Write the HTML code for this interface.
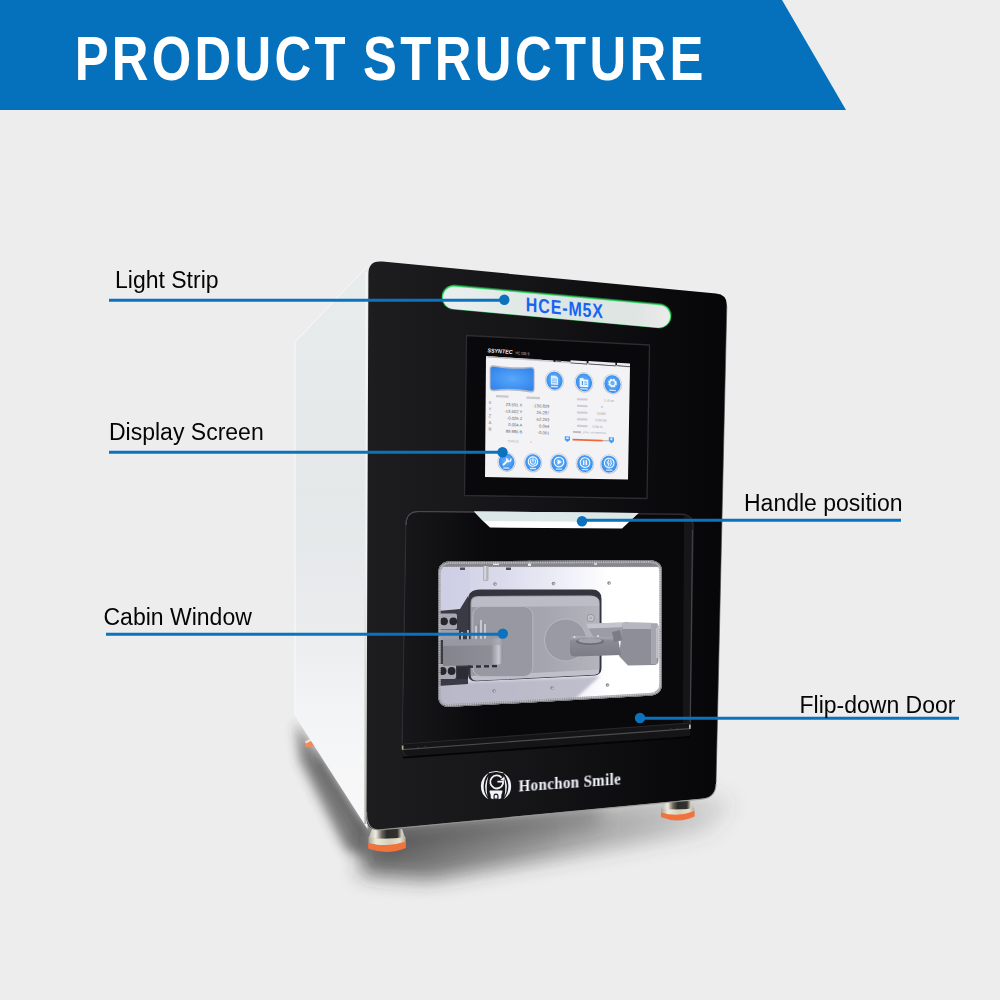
<!DOCTYPE html>
<html><head><meta charset="utf-8"><title>Product Structure</title>
<style>
html,body{margin:0;padding:0;background:#ededed;}
body{width:1000px;height:1000px;overflow:hidden;position:relative;font-family:"Liberation Sans",sans-serif;}
svg{position:absolute;left:0;top:0;display:block}
text{font-family:"Liberation Sans",sans-serif;}
.lbl{font-size:23px;fill:#050505;}
.ser{font-family:"Liberation Serif",serif;}
</style></head><body>
<svg width="1000" height="1000" viewBox="0 0 1000 1000">
<defs>
<filter id="b4" x="-20%" y="-50%" width="140%" height="200%"><feGaussianBlur stdDeviation="4"/></filter>
<filter id="b8" x="-20%" y="-60%" width="140%" height="220%"><feGaussianBlur stdDeviation="10"/></filter>
<filter id="b14" x="-20%" y="-80%" width="140%" height="260%"><feGaussianBlur stdDeviation="14"/></filter>
<filter id="idn" x="-5%" y="-20%" width="110%" height="140%"><feOffset dx="0" dy="0"/></filter>
<filter id="b6" x="-40%" y="-40%" width="180%" height="180%"><feGaussianBlur stdDeviation="6"/></filter>
<filter id="b1"><feGaussianBlur stdDeviation="0.6"/></filter>
<filter id="b2"><feGaussianBlur stdDeviation="1.6"/></filter>
<linearGradient id="gFront" x1="0" y1="0" x2="1" y2="0">
 <stop offset="0" stop-color="#1d1d20"/><stop offset="0.45" stop-color="#151517"/><stop offset="0.8" stop-color="#0b0b0d"/><stop offset="1" stop-color="#060608"/>
</linearGradient>
<linearGradient id="gSide" x1="0" y1="0" x2="0" y2="1">
 <stop offset="0" stop-color="#e9eced"/><stop offset="0.4" stop-color="#e4e8e9"/><stop offset="0.62" stop-color="#e9ebed"/><stop offset="0.8" stop-color="#f3f4f5"/><stop offset="1" stop-color="#f9f9fa"/>
</linearGradient>
<linearGradient id="gStrip" x1="0" y1="0" x2="1" y2="0">
 <stop offset="0" stop-color="#e9efee"/><stop offset="0.5" stop-color="#dde6e4"/><stop offset="0.85" stop-color="#dfe5e3"/><stop offset="1" stop-color="#ebebeb"/>
</linearGradient>
<linearGradient id="gWin" x1="0" y1="0" x2="1" y2="0">
 <stop offset="0" stop-color="#cfcfe4"/><stop offset="0.3" stop-color="#dadaec"/><stop offset="0.6" stop-color="#f2f2fa"/><stop offset="0.75" stop-color="#ffffff"/><stop offset="1" stop-color="#ffffff"/>
</linearGradient>
<linearGradient id="gPlate" x1="0" y1="0" x2="1" y2="0">
 <stop offset="0" stop-color="#9a9aa4"/><stop offset="0.6" stop-color="#a6a6b0"/><stop offset="1" stop-color="#b4b4bc"/>
</linearGradient>
<linearGradient id="gClamp" x1="0" y1="0" x2="1" y2="0">
 <stop offset="0" stop-color="#84848c"/><stop offset="0.8" stop-color="#8e8e96"/><stop offset="0.93" stop-color="#c8c8d0"/><stop offset="1" stop-color="#8a8a92"/>
</linearGradient>
<linearGradient id="gArm" x1="0" y1="0" x2="0" y2="1">
 <stop offset="0" stop-color="#b0b0b8"/><stop offset="0.25" stop-color="#8a8a92"/><stop offset="1" stop-color="#7c7c84"/>
</linearGradient>
<linearGradient id="gFoot" x1="0" y1="0" x2="1" y2="0">
 <stop offset="0" stop-color="#a8a494"/><stop offset="0.2" stop-color="#ecead8"/><stop offset="0.55" stop-color="#d4d0ba"/><stop offset="0.85" stop-color="#e4e0cc"/><stop offset="1" stop-color="#b0ac9c"/>
</linearGradient>
<linearGradient id="gShadow" gradientUnits="userSpaceOnUse" x1="366" y1="0" x2="735" y2="0">
 <stop offset="0" stop-color="#2c2c2c" stop-opacity="0.72"/><stop offset="0.45" stop-color="#3a3a3a" stop-opacity="0.5"/><stop offset="0.8" stop-color="#4a4a4a" stop-opacity="0.3"/><stop offset="1" stop-color="#555" stop-opacity="0.12"/>
</linearGradient>
<linearGradient id="gFootTop" x1="0" y1="0" x2="1" y2="0">
 <stop offset="0" stop-color="#b8b4a8"/><stop offset="0.2" stop-color="#f0ece2"/><stop offset="0.36" stop-color="#6a665e"/><stop offset="0.5" stop-color="#2a2a28"/><stop offset="0.78" stop-color="#34332f"/><stop offset="0.9" stop-color="#d8d4c6"/><stop offset="1" stop-color="#a8a498"/>
</linearGradient>
<linearGradient id="gEdge" gradientUnits="userSpaceOnUse" x1="0" y1="560" x2="0" y2="824">
 <stop offset="0" stop-color="#d8dad8" stop-opacity="0"/><stop offset="0.4" stop-color="#cfd0cc" stop-opacity="0.8"/><stop offset="1" stop-color="#b4b4ac" stop-opacity="1"/>
</linearGradient>
<linearGradient id="gDoorL" gradientUnits="userSpaceOnUse" x1="404" y1="0" x2="500" y2="0">
 <stop offset="0" stop-color="#18181b" stop-opacity="0.95"/><stop offset="0.5" stop-color="#131315" stop-opacity="0.7"/><stop offset="1" stop-color="#0a0a0c" stop-opacity="0"/>
</linearGradient>
<radialGradient id="gIcon" cx="0.5" cy="0.45" r="0.6">
 <stop offset="0" stop-color="#6fb6fb"/><stop offset="0.7" stop-color="#3f97f2"/><stop offset="1" stop-color="#2f7fe0"/>
</radialGradient>
<radialGradient id="gBlue" cx="0.5" cy="0.5" r="0.7">
 <stop offset="0" stop-color="#58a8fb"/><stop offset="1" stop-color="#2f80ea"/>
</radialGradient>

<clipPath id="cWin"><path d="M438.0,574.1 Q438.0,561.4 451.0,561.3 L649.0,560.3 Q662.0,560.2 662.0,571.9 L662.0,683.4 Q662.0,695.1 649.0,695.8 L451.0,706.8 Q438.0,707.5 438.0,694.9 Z"/></clipPath>
</defs>
<rect width="1000" height="1000" fill="#ededed"/>
<polygon points="0,0 782,0 846,110 0,110" fill="#0571bd"/>
<g fill="#ffffff" font-weight="700" font-size="63.5" filter="url(#idn)">
<text transform="translate(74.7,80.3) scale(0.8,1)" letter-spacing="4.1">PRODUCT</text>
<text transform="translate(363,80.3) scale(0.8,1)" letter-spacing="4.25">STRUCTURE</text>
</g>
<g>
<polygon points="368,824 714,794 734,804 708,832 430,880 360,874" fill="url(#gShadow)" filter="url(#b8)"/>
<polygon points="372,826 600,806 600,822 380,852" fill="#3a3a3a" opacity="0.4" filter="url(#b8)"/>
<polygon points="296,722 366,830 370,858 346,850 300,760" fill="#303030" opacity="0.62" filter="url(#b6)"/>
<polygon points="312,742 366,828 366,842 318,766" fill="#202020" opacity="0.5" filter="url(#b4)"/>
</g>
<path d="M664.8,801 L690.7,801 L694.2,809.5 L661.3,809.5 Z" fill="url(#gFootTop)"/><path d="M661.3,808.5 Q677.75,811.0 694.2,808.0 L694.2,813 Q677.75,817 661.3,813 Z" fill="url(#gFoot)"/><path d="M660.9,812.5 Q677.75,817.5 694.6,811 L694.6,816.5 Q677.75,824.0 660.9,817.0 Z" fill="#f1733c"/>
<path d="M372.0,829 L402.0,829 L405.5,838.5 L368.5,838.5 Z" fill="url(#gFootTop)"/><path d="M368.5,837.5 Q387.0,840.0 405.5,837.0 L405.5,843.5 Q387.0,847.5 368.5,843.5 Z" fill="url(#gFoot)"/><path d="M368.1,843.0 Q387.0,848.0 405.9,841.5 L405.9,848 Q387.0,855.5 368.1,848.5 Z" fill="#f1733c"/>
<path d="M304.5,742.5 l6.5,-3 l3.6,6.4 l-8.6,1.6 z" fill="#f28a55"/><path d="M305,741.5 l6,-3 l1,2 l-6,3 z" fill="#e8e4da"/>
<polygon points="295,342 367.5,266 367.5,829 340,786 295,716" fill="url(#gSide)"/>
<polyline points="295,716 295,342 367.5,266" fill="none" stroke="#f8fafa" stroke-width="1"/>
<line x1="366.3" y1="272" x2="366.3" y2="822" stroke="#f4f6f6" stroke-width="1.6"/>
<line x1="365.6" y1="560" x2="365.4" y2="824" stroke="url(#gEdge)" stroke-width="2.2"/>
<path d="M368.4,274 Q368.4,259.8 382.5,261.6 L716,293.6 Q727,294.7 726.8,305 L716,784 Q715.7,797.6 702,798.8 L380,829.6 Q366.3,830.9 366.4,817 Z" fill="url(#gFront)"/>
<path d="M726.8,306 L716,783" stroke="#4a4a4e" stroke-width="1" opacity="0.6" fill="none"/>
<path d="M366.6,812 Q366.3,830.9 380,829.9 L702,799.1 Q715.7,797.9 716,784" stroke="#9a9a98" stroke-width="1.1" opacity="0.8" fill="none"/>
<g transform="translate(556.5,306.9) rotate(5.2)">
<rect x="-115.2" y="-12.6" width="230.4" height="24.4" rx="12.2" fill="#34ea6c" opacity="0.95" filter="url(#b1)"/>
<rect x="-114" y="-11" width="228" height="22.5" rx="11.2" fill="url(#gStrip)"/>
</g>
<text transform="translate(525.8,311.3) skewY(5.2) scale(0.8,1)" font-size="20" font-weight="700" fill="#1565f2" letter-spacing="1.1">HCE-M5X</text>
<polygon points="466.5,335.5 649.5,345 647,498.5 464.5,495.5" fill="#09090b" stroke="#2c2c32" stroke-width="1.3" stroke-linejoin="round"/>
<g transform="translate(487.5,352.3) skewY(3.6)"><text font-size="5.6" font-weight="700" font-style="italic" fill="#f2f2f2" textLength="25" lengthAdjust="spacingAndGlyphs">SSYNTEC</text><text x="28" y="0.3" font-size="4.2" fill="#c8c8c8" textLength="14" lengthAdjust="spacingAndGlyphs">HC 10E-5</text></g>
<polygon points="486,356 630,366 628,479.6 485,477" fill="#f3f3f6"/>
<polygon points="486,356 630,366 630,367.6 486,357.4" fill="#c9c9cf"/>
<g transform="translate(486,356) skewY(3.89)">
<rect x="84.5" y="-1.6" width="16.5" height="2.6" fill="#ececf0"/><rect x="84.5" y="0.8" width="16.5" height="0.8" fill="#3a3a40"/>
<rect x="102.5" y="-2.0" width="27" height="2.8" fill="#ececf0"/><rect x="102.5" y="0.6" width="27" height="0.8" fill="#3a3a40"/>
<rect x="131" y="-2.2" width="13" height="2.8" fill="#ececf0"/><rect x="131" y="0.4" width="13" height="0.8" fill="#3a3a40"/>
<rect x="100.6" y="-1.8" width="0.8" height="3" fill="#3a3a40"/><rect x="129.6" y="-2" width="0.8" height="3" fill="#3a3a40"/>
<circle cx="68.5" cy="0.2" r="1.2" fill="#1c1c20"/><rect x="70" y="-0.6" width="5" height="1.4" fill="#55555c"/>
<rect x="40" y="-0.4" width="16" height="0.9" fill="#8a8a92" opacity="0.7"/><rect x="2" y="0.2" width="20" height="0.8" fill="#9a9aa2" opacity="0.7"/>
</g>
<g transform="translate(486,356) skewY(1.72)">
<path d="M3.6,12.6 Q3.6,8.6 8,9 Q26,11.6 44.5,9.4 Q48.6,9 48.6,13 L48.6,31.5 Q48.6,35.6 44.5,35.2 Q26,32.6 8,35 Q3.6,35.5 3.6,31.5 Z" fill="#b4b8c2"/>
<path d="M4.6,13.4 Q4.6,10.2 8,10.5 Q26,13.2 44.5,10.9 Q47.6,10.6 47.6,13.6 L47.6,30.6 Q47.6,33.8 44.5,33.5 Q26,30.8 8,33.4 Q4.6,33.8 4.6,30.6 Z" fill="url(#gBlue)"/>
</g>
<g transform="translate(554.5,380.6) skewY(3.43)">
<ellipse cx="0" cy="0" rx="9.6" ry="10.4" fill="#c6cad6"/><ellipse cx="0" cy="-0.3" rx="8.9" ry="9.5" fill="#e6eaf2"/><ellipse cx="0" cy="0" rx="8.1" ry="8.9" fill="url(#gIcon)"/><ellipse cx="29.5" cy="0" rx="9.6" ry="10.4" fill="#c6cad6"/><ellipse cx="29.5" cy="-0.3" rx="8.9" ry="9.5" fill="#e6eaf2"/><ellipse cx="29.5" cy="0" rx="8.1" ry="8.9" fill="url(#gIcon)"/><ellipse cx="58" cy="0" rx="9.6" ry="10.4" fill="#c6cad6"/><ellipse cx="58" cy="-0.3" rx="8.9" ry="9.5" fill="#e6eaf2"/><ellipse cx="58" cy="0" rx="8.1" ry="8.9" fill="url(#gIcon)"/>
<path d="M-3.6,-5 h5 l2.2,2.2 v7 h-7.2 z" fill="#dcebff"/><path d="M-2.6,-1.5 h5 M-2.6,0.3 h5 M-2.6,2.1 h5" stroke="#62a8f4" stroke-width="0.7"/><rect x="-3.6" y="5.4" width="7.2" height="1.4" fill="#e8f2ff" opacity="0.85"/>
<path d="M25.2,-4.2 h3.4 l1,1.3 h4.2 v7.6 h-8.6 z" fill="#eaf3ff"/><rect x="27.3" y="-1.2" width="1.2" height="4" fill="#4a9df4"/><rect x="29.8" y="-0.8" width="2.8" height="0.8" fill="#4a9df4"/><rect x="29.8" y="1.3" width="2.8" height="0.8" fill="#4a9df4"/><rect x="25.8" y="5.8" width="7.6" height="1.4" fill="#e8f2ff" opacity="0.85"/>
<circle cx="58" cy="-1" r="3.4" fill="none" stroke="#f2f8ff" stroke-width="2" stroke-dasharray="1.55 1.12"/><circle cx="58" cy="-1" r="2.9" fill="none" stroke="#f2f8ff" stroke-width="1.3"/><rect x="54.6" y="5.6" width="6.8" height="1.4" fill="#e8f2ff" opacity="0.85"/>
</g>
<g transform="translate(486,356) skewY(2.41)"><g fill="#62626a" font-size="4.2">
<rect x="10" y="38.6" width="12.5" height="2.2" fill="#8a8a92" opacity="0.4"/><rect x="40.5" y="38.8" width="13.5" height="2.2" fill="#8a8a92" opacity="0.4"/>
<text x="2.4" y="47.8" fill="#7c7c84" font-size="4.4">X</text><text x="36.4" y="49.2" text-anchor="end">23.501 X</text><text x="63.4" y="49.2" text-anchor="end">-130.829</text>
<text x="2.4" y="54.5" fill="#7c7c84" font-size="4.4">Y</text><text x="36.4" y="55.9" text-anchor="end">-13.502 Y</text><text x="63.4" y="55.9" text-anchor="end">26.287</text>
<text x="2.4" y="61.2" fill="#7c7c84" font-size="4.4">Z</text><text x="36.4" y="62.6" text-anchor="end">-0.026 Z</text><text x="63.4" y="62.6" text-anchor="end">62.253</text>
<text x="2.4" y="67.8" fill="#7c7c84" font-size="4.4">A</text><text x="36.4" y="69.2" text-anchor="end">0.004 A</text><text x="63.4" y="69.2" text-anchor="end">0.064</text>
<text x="2.4" y="74.5" fill="#7c7c84" font-size="4.4">B</text><text x="36.4" y="75.9" text-anchor="end">89.986 B</text><text x="63.4" y="75.9" text-anchor="end">-0.061</text>
<text x="21.5" y="85.2" font-size="3" fill="#a0a0a8">T0/M1/S</text><text x="44" y="85.2" font-size="3" fill="#a0a0a8">1</text>
</g></g>
<g transform="translate(577,400.6) skewY(2.00)"><g fill="#8e8e96" font-size="3.3">
<rect x="0" y="-2.4" width="10.5" height="2" fill="#8a8a92" opacity="0.36"/>
<text x="27" y="0.0" fill="#9a9aa2">1 /0 oo</text>
<rect x="0" y="4.2" width="10.5" height="2" fill="#8a8a92" opacity="0.36"/>
<text x="24" y="6.7" fill="#9a9aa2">6</text>
<rect x="0" y="10.9" width="10.5" height="2" fill="#8a8a92" opacity="0.36"/>
<text x="19.5" y="13.3" fill="#9a9aa2">12000</text>
<rect x="0" y="17.6" width="10.5" height="2" fill="#8a8a92" opacity="0.36"/>
<text x="18.5" y="20.0" fill="#9a9aa2">0:00:06</text>
<rect x="0" y="24.2" width="10.5" height="2" fill="#8a8a92" opacity="0.36"/>
<text x="15.5" y="26.6" fill="#9a9aa2">0.00   %</text>
<rect x="-4" y="30.6" width="8" height="1.8" fill="#8a8a92" opacity="0.55"/><text x="5.5" y="32.4" font-size="2.4" fill="#9a9aa2">100%    F100    8000RPM</text>
</g></g>
<g transform="translate(567.4,438.8) skewY(1.72)">
<rect x="5" y="-0.2" width="30.5" height="1.8" rx="0.9" fill="#f0683a"/><rect x="35.5" y="0.1" width="6" height="1.2" fill="#b4b4bc"/>
<path d="M-2.6,-2.4 h5.2 v3.6 l-2.6,2 l-2.6,-2 z" fill="#4a9df4"/><rect x="-1.3" y="-1.4" width="2.6" height="1.5" fill="#eef6ff"/>
<path d="M41.4,-2.8 h5.2 v3.8 l-2.6,2.4 l-2.6,-2.4 z" fill="#4a9df4"/><rect x="43.1" y="-2" width="1.8" height="2" fill="#eef6ff"/>
</g>
<g transform="translate(506.6,462) skewY(1.15)">
<ellipse cx="0" cy="0" rx="9.3" ry="9.9" fill="#c6cad6"/><ellipse cx="0" cy="-0.3" rx="8.600000000000001" ry="9.0" fill="#e6eaf2"/><ellipse cx="0" cy="0" rx="7.800000000000001" ry="8.4" fill="url(#gIcon)"/>
<ellipse cx="26.4" cy="0" rx="9.3" ry="9.9" fill="#c6cad6"/><ellipse cx="26.4" cy="-0.3" rx="8.600000000000001" ry="9.0" fill="#e6eaf2"/><ellipse cx="26.4" cy="0" rx="7.800000000000001" ry="8.4" fill="url(#gIcon)"/>
<ellipse cx="52.4" cy="0" rx="9.3" ry="9.9" fill="#c6cad6"/><ellipse cx="52.4" cy="-0.3" rx="8.600000000000001" ry="9.0" fill="#e6eaf2"/><ellipse cx="52.4" cy="0" rx="7.800000000000001" ry="8.4" fill="url(#gIcon)"/>
<ellipse cx="78.4" cy="0" rx="9.3" ry="9.9" fill="#c6cad6"/><ellipse cx="78.4" cy="-0.3" rx="8.600000000000001" ry="9.0" fill="#e6eaf2"/><ellipse cx="78.4" cy="0" rx="7.800000000000001" ry="8.4" fill="url(#gIcon)"/>
<ellipse cx="102.6" cy="0" rx="9.3" ry="9.9" fill="#c6cad6"/><ellipse cx="102.6" cy="-0.3" rx="8.600000000000001" ry="9.0" fill="#e6eaf2"/><ellipse cx="102.6" cy="0" rx="7.800000000000001" ry="8.4" fill="url(#gIcon)"/>
<path d="M-3.2,2.8 l4.6,-4.6" stroke="#f4f9ff" stroke-width="1.8" stroke-linecap="round" fill="none"/><circle cx="2.2" cy="-2.6" r="2.1" fill="none" stroke="#f4f9ff" stroke-width="1.4" stroke-dasharray="9.4 3.8" stroke-dashoffset="2.2"/>
<circle cx="26.4" cy="-1" r="4.7" fill="none" stroke="#f4f9ff" stroke-width="1.1"/><path d="M26.4,-4 v2.8" stroke="#f4f9ff" stroke-width="1.1" stroke-linecap="round"/><path d="M24.5,-2.9 a2.7,2.7 0 1 0 3.8,0" stroke="#f4f9ff" stroke-width="1" fill="none" stroke-linecap="round"/>
<circle cx="52.4" cy="-1" r="4.8" fill="none" stroke="#f4f9ff" stroke-width="1.1"/><path d="M50.9,-3.7 l4.4,2.7 l-4.4,2.7 z" fill="#f4f9ff"/>
<circle cx="78.4" cy="-1" r="4.8" fill="none" stroke="#f4f9ff" stroke-width="1.1"/><rect x="76.4" y="-3.4" width="1.3" height="4.8" fill="#f4f9ff"/><rect x="79.1" y="-3.4" width="1.3" height="4.8" fill="#f4f9ff"/>
<circle cx="102.6" cy="-1" r="4.8" fill="none" stroke="#f4f9ff" stroke-width="1.1"/><path d="M102.2,-4.2 l-1.5,3.3 h1.7 l-0.9,3.1 M104.2,-3.9 l0.2,2.6 M103.6,1.8 l1.4,-2.6" stroke="#f4f9ff" stroke-width="0.95" fill="none" stroke-linecap="round" stroke-linejoin="round"/>
<rect x="-3.2" y="5.4" width="6.4" height="1.3" fill="#e8f2ff" opacity="0.85"/>
<rect x="23.2" y="5.4" width="6.4" height="1.3" fill="#e8f2ff" opacity="0.85"/>
<rect x="49.199999999999996" y="5.4" width="6.4" height="1.3" fill="#e8f2ff" opacity="0.85"/>
<rect x="75.2" y="5.4" width="6.4" height="1.3" fill="#e8f2ff" opacity="0.85"/>
<rect x="99.39999999999999" y="5.4" width="6.4" height="1.3" fill="#e8f2ff" opacity="0.85"/>
</g>
<path d="M406,525 Q406,511.4 419,511.6 L681,514.2 Q693.2,514.3 693,527 L690.2,724 Q690,736.2 678,737 L414,756.6 Q402,757.5 402.2,745 Z" fill="#09090b" stroke="#2e2e33" stroke-width="1.4"/>
<path d="M406,525 Q406,511.4 419,511.6 L474,512" fill="none" stroke="#4a4a50" stroke-width="1.2"/>
<path d="M406.8,526 L403,744 L414,755.8 L500,749 L500,513 L419,512.4 Q407,512.3 406.8,526 Z" fill="url(#gDoorL)"/>
<path d="M684,515 Q692.4,515.2 692.3,527 L689.6,724 L683,724.6 Z" fill="#1a1a1d" opacity="0.8"/>
<path d="M474,511.5 L638.5,513 L630,521 L622,528.5 L490,527.5 L482,520 Z" fill="#ffffff"/>
<path d="M474,511.5 L638.5,513 L628.5,522 L483.5,521 Z" fill="#dce8e7"/>
<path d="M402.6,743.5 L690.2,722.6 L690,736.2 L678,737 L414,756.6 Q402,757.5 402.2,745 Z" fill="#151517"/>
<path d="M403,744 L690,723" stroke="#28282b" stroke-width="1" fill="none"/>
<path d="M403,749.6 L690,728.6" stroke="#4c4c50" stroke-width="1.2" fill="none"/>
<path d="M403,757.6 L690,736.8" stroke="#040405" stroke-width="1.8" fill="none"/>
<path d="M692.4,530 L690.2,722" stroke="#4a4a50" stroke-width="1" opacity="0.85" fill="none"/>
<rect x="401.8" y="745.5" width="1.7" height="4.2" fill="#b8a890"/><rect x="689" y="724.6" width="1.7" height="4.2" fill="#c8c0b0"/>
<circle cx="418" cy="747.2" r="0.7" fill="#3a3a3e"/><circle cx="425" cy="746.7" r="0.7" fill="#3a3a3e"/><circle cx="671" cy="728.6" r="0.7" fill="#3a3a3e"/><circle cx="677" cy="728.2" r="0.7" fill="#3a3a3e"/>
<g clip-path="url(#cWin)">
<rect x="430" y="550" width="240" height="170" fill="url(#gWin)"/>
<polygon points="436,684 600,676 574,700 540,712 436,712" fill="#b4b4c4" opacity="0.85" filter="url(#b2)"/>
<polygon points="436,560 470,560 470,604 436,612" fill="#c8c8e2" opacity="0.35"/>
<rect x="436" y="559" width="228" height="8" fill="#86868c"/>
<rect x="436" y="559" width="228" height="8" fill="none" stroke="#d8d8dc" stroke-width="1" stroke-dasharray="1 1.2" opacity="0.7"/>
<rect x="493" y="559" width="6" height="6" fill="#e8e8ee"/><rect x="528" y="560" width="3" height="6" fill="#e8e8ee"/><rect x="594" y="561" width="3" height="4" fill="#d8d8de"/>
<rect x="483" y="566" width="5.5" height="15" rx="1.5" fill="#b2b2ba"/><rect x="484.2" y="566" width="2" height="14" fill="#d6d6de"/>
<rect x="460" y="567.5" width="5" height="2.5" fill="#50505a"/><rect x="506" y="567.5" width="5" height="2.5" fill="#50505a"/>
<circle cx="495" cy="584" r="1.8" fill="#8a8a92"/><circle cx="495.4" cy="584.3" r="0.8" fill="#d8d8e0"/>
<circle cx="553.5" cy="583.6" r="1.8" fill="#8a8a92"/><circle cx="553.9" cy="583.9" r="0.8" fill="#d8d8e0"/>
<circle cx="609" cy="583" r="1.8" fill="#8a8a92"/><circle cx="609.4" cy="583.3" r="0.8" fill="#d8d8e0"/>
<circle cx="494" cy="691" r="1.8" fill="#8a8a92"/><circle cx="494.4" cy="691.3" r="0.8" fill="#d8d8e0"/>
<circle cx="552" cy="688" r="1.8" fill="#8a8a92"/><circle cx="552.4" cy="688.3" r="0.8" fill="#d8d8e0"/>
<circle cx="607.5" cy="685" r="1.8" fill="#8a8a92"/><circle cx="607.9" cy="685.3" r="0.8" fill="#d8d8e0"/>
<path d="M438,611 L460,609 L468,596 L468,684 L438,686 Z" fill="#3a3a44"/>
<rect x="438" y="613.5" width="19" height="16" rx="2" fill="#a8a8b2"/>
<rect x="437" y="664" width="19" height="15" rx="2" fill="#a8a8b2"/>
<circle cx="444" cy="621.3" r="3.9" fill="#26262c"/>
<circle cx="453.3" cy="621.3" r="3.9" fill="#26262c"/>
<circle cx="442.6" cy="671" r="3.9" fill="#26262c"/>
<circle cx="451.6" cy="671" r="3.9" fill="#26262c"/>
<rect x="437" y="630" width="22" height="10" fill="#9e9ea8"/>
<path d="M468,600 Q468,589.5 480,589.5 L592,589.5 Q601.5,589.5 601.5,599 L601.5,668 Q601.5,675 595,675.4 L476,681.2 Q468,681.6 468,674 Z" fill="#34343e"/>
<path d="M470.5,603 Q470.5,596 478,596 L590,595.5 Q599.6,595.5 599.6,603 L599.6,668 Q599.6,674.4 593,674.8 L477,680.6 Q470.5,681 470.5,674 Z" fill="url(#gPlate)"/>
<path d="M471.5,603 Q471.5,597 478,597 L590,596.5 Q598.6,596.5 598.6,603 L598.6,606 L471.5,607 Z" fill="#bcbcc8"/>
<path d="M471,676 L599,669.6 L599,672.5 Q598,674.5 594,674.8 L477,680.6 Q472,680.6 471,676 Z" fill="#c2c2cc" opacity="0.9"/>
<rect x="472.8" y="606.5" width="60" height="70" rx="9" fill="#9898a2" stroke="#b6b6c0" stroke-width="1"/>
<circle cx="565.6" cy="640" r="21" fill="#9a9aa4" stroke="#b8b8c2" stroke-width="1"/>
<circle cx="590.8" cy="618" r="3.6" fill="#c8c8d0" stroke="#8a8a92" stroke-width="0.8"/><circle cx="590.8" cy="618" r="1.6" fill="#a8a8b0"/>
<path d="M586,623.5 L628,622.5 L624,641 L596,642 Z" fill="#9c9ca6"/>
<path d="M586,623.5 L628,622.5 L627,627 L588,628.5 Z" fill="#c4c4cc"/>
<path d="M622.5,626 Q622.5,622.5 626,622.5 L655,623 Q658.5,623 658.5,627 L658.5,660 Q658.5,665 654,665 L628,665.5 L619,656 Z" fill="#8e8e98"/>
<path d="M622.5,626 Q622.5,622.5 626,622.5 L655,623 Q658.5,623 658.5,627 L658.5,629 L622.5,629 Z" fill="#b6b6be"/>
<rect x="651" y="624" width="6" height="40" fill="#a6a6ae"/>
<rect x="656" y="628" width="8" height="30" fill="#c4c4cc" opacity="0.8"/>
<path d="M570,640 Q570,636 575,636 L618,637.5 L621,655 L575,656.5 Q570,656.5 570,652 Z" fill="url(#gArm)"/>
<ellipse cx="590" cy="641.5" rx="14" ry="3.6" fill="#6e6e78"/><ellipse cx="590" cy="640.6" rx="12" ry="2.6" fill="#a2a2ac"/>
<path d="M612,632 l8,-2 l2,10 l-8,2 z" fill="#7c7c86"/>
<circle cx="574.5" cy="637" r="1" fill="#e0e0e8"/><circle cx="598" cy="636" r="1" fill="#e0e0e8"/>
<g stroke="#d4d4dc" stroke-width="1.6"><path d="M462,632 v8 M468,630 v10 M476,626 v14 M481,620 v20 M485,624 v16"/></g>
<g stroke="#8c8c96" stroke-width="1.2"><path d="M478.5,624 v16 M483,622 v18"/></g>
<path d="M443,640 L497,638.5 Q503,638.5 503,644 L503,659 Q503,664.5 497,664.7 L443,666 Z" fill="url(#gClamp)"/>
<path d="M443,640 L497,638.5 Q503,638.5 503,644 L503,645 L443,646 Z" fill="#a0a0aa" opacity="0.7"/>
<g fill="#2e2e36"><rect x="468" y="665.5" width="5" height="2.4"/><rect x="476" y="665.3" width="5" height="2.4"/><rect x="484" y="665.1" width="5" height="2.4"/><rect x="492" y="664.9" width="5" height="2.4"/></g>
<rect x="457" y="667" width="11" height="12" fill="#2c2c34"/>
</g>
<g clip-path="url(#cWin)"><path d="M438.0,574.1 Q438.0,561.4 451.0,561.3 L649.0,560.3 Q662.0,560.2 662.0,571.9 L662.0,683.4 Q662.0,695.1 649.0,695.8 L451.0,706.8 Q438.0,707.5 438.0,694.9 Z" fill="none" stroke="#909096" stroke-width="5.4" opacity="0.85"/>
<path d="M438.0,574.1 Q438.0,561.4 451.0,561.3 L649.0,560.3 Q662.0,560.2 662.0,571.9 L662.0,683.4 Q662.0,695.1 649.0,695.8 L451.0,706.8 Q438.0,707.5 438.0,694.9 Z" fill="none" stroke="#eeeef2" stroke-width="5.4" stroke-dasharray="0.8 1.0" opacity="0.55"/>
<path d="M438.0,574.1 Q438.0,561.4 451.0,561.3 L649.0,560.3 Q662.0,560.2 662.0,571.9 L662.0,683.4 Q662.0,695.1 649.0,695.8 L451.0,706.8 Q438.0,707.5 438.0,694.9 Z" fill="none" stroke="#5c5c62" stroke-width="1.4" opacity="0.8"/></g>
<g transform="translate(496,786)" fill="#f2f3fa">
<path d="M-7.3,-13 A15.1,15.1 0 0 0 -7.6,13.3 A20,20 0 0 1 -7.3,-13 Z"/>
<path d="M7.3,-13 A15.1,15.1 0 0 1 7.6,13.3 A20,20 0 0 0 7.3,-13 Z"/>
<path d="M-7.6,-10 A21,21 0 0 0 -8.4,10.8 A44,44 0 0 1 -7.6,-10 Z"/>
<path d="M7.6,-10 A21,21 0 0 1 8.4,10.8 A44,44 0 0 0 7.6,-10 Z"/>
<path d="M-7.2,-13.2 Q0,-16 7.2,-13.2" fill="none" stroke="#f2f3fa" stroke-width="0.9"/>
<path d="M5.6,-8.4 A6.5,6.5 0 1 0 7,-2.2 L7,-4.4 L1.4,-4.4" fill="none" stroke="#f2f3fa" stroke-width="1.8"/>
<path d="M4.4,-6.6 l3.8,-2.6 l-0.4,4.2 z"/>
<path d="M-6.4,4.4 L6.4,4.4 L6.4,6 Q5,8.6 5.2,12.2 L2.5,13.2 L2.5,9.4 Q2.5,7.4 0,7.4 Q-2.5,7.4 -2.5,9.4 L-2.5,13.2 L-5.2,12.2 Q-5,8.6 -6.4,6 Z"/>
<rect x="-1.3" y="9" width="2.6" height="3.4" rx="0.5"/>
</g>
<text class="ser" transform="translate(518.6,791.6) skewY(-4.1) scale(0.85,1)" font-size="17.6" font-weight="700" fill="#f4f6ff" letter-spacing="0.45" filter="url(#idn)">Honchon Smile</text>
<g stroke="#0b72be" stroke-width="2.9" fill="none">
<path d="M109,300.3 H505"/><path d="M109,452.2 H503"/><path d="M106,634.2 H503"/><path d="M582,520.3 H901"/><path d="M640,718.2 H959"/>
</g>
<g fill="#0b72be"><circle cx="504.3" cy="299.8" r="5.2"/><circle cx="502.5" cy="452.2" r="5.2"/><circle cx="502.8" cy="633.6" r="5.2"/><circle cx="582" cy="521.2" r="5.2"/><circle cx="640" cy="718" r="5.2"/></g>
<g class="lbl" filter="url(#idn)">
<text x="115" y="287.5">Light Strip</text>
<text x="109" y="440">Display Screen</text>
<text x="103.5" y="625">Cabin Window</text>
<text x="744" y="511.3">Handle position</text>
<text x="799.5" y="712.6">Flip-down Door</text>
</g>
</svg></body></html>
